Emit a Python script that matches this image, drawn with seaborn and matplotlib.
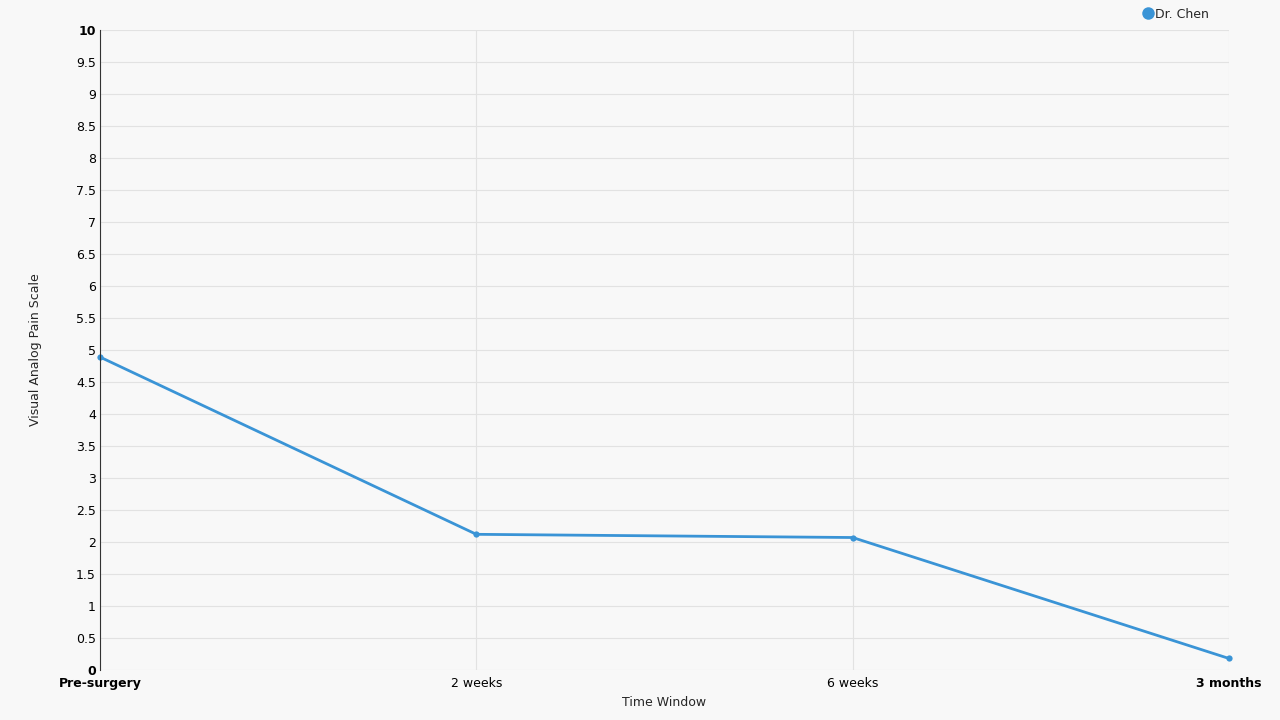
import matplotlib
matplotlib.use("Agg")
import matplotlib.pyplot as plt
import seaborn as sns
import pandas as pd
from matplotlib.lines import Line2D

windows = ["Pre-surgery", "2 weeks", "6 weeks", "3 months"]
pain = [4.89, 2.12, 2.07, 0.18]
series_name = "Dr. Chen"
y_ticks = [i * 0.5 for i in range(21)]

df = pd.DataFrame({"Time Window": windows, "pain": pain})

sns.set_style("whitegrid")
plt.rcParams["font.family"] = ["DejaVu Sans"]

color = "#3a94d6"
bg = "#f8f8f8"

fig = plt.figure(figsize=(12.8, 7.2), dpi=100, facecolor=bg)
ax = fig.add_axes([100 / 1280, 50 / 720, 1129 / 1280, 640 / 720])
ax.set_facecolor(bg)

sns.lineplot(data=df, x="Time Window", y="pain", ax=ax, color=color,
             linewidth=2, marker="o", markersize=4.5, markeredgewidth=0,
             sort=False, clip_on=False)

ax.set_xlim(0, len(windows) - 1)
ax.set_ylim(0, 10)
ax.set_yticks(y_ticks)
ax.set_yticklabels([f"{v:g}" for v in y_ticks], fontsize=9)
ax.set_xticks(range(len(windows)))
ax.set_xticklabels(windows, fontsize=9)
for labels in (ax.get_xticklabels(), ax.get_yticklabels()):
    labels[0].set_fontweight("bold")
    labels[-1].set_fontweight("bold")
for lbl in ax.get_yticklabels():
    lbl.set_verticalalignment("center_baseline")

ax.grid(True, color="#e2e2e2", linewidth=0.8)
for s in ["top", "right", "bottom"]:
    ax.spines[s].set_visible(False)
ax.spines["left"].set_color("#333333")
ax.spines["left"].set_linewidth(0.8)
ax.tick_params(axis="both", length=0, colors="#000000")
ax.tick_params(axis="y", pad=3)
ax.tick_params(axis="x", pad=5)

ax.set_xlabel("Time Window", fontsize=9, labelpad=4)
ax.set_ylabel("Visual Analog Pain Scale", fontsize=9, labelpad=24)

handle = Line2D([], [], marker="o", linestyle="none", color=color,
                markersize=9, markeredgewidth=0)
fig.legend([handle], [series_name], loc="center left",
           bbox_to_anchor=(1134 / 1280, 1 - 14 / 720), frameon=False,
           fontsize=9, handletextpad=0.0, borderpad=0, handlelength=1.2)

fig.savefig("out.png", dpi=100, facecolor=bg)
